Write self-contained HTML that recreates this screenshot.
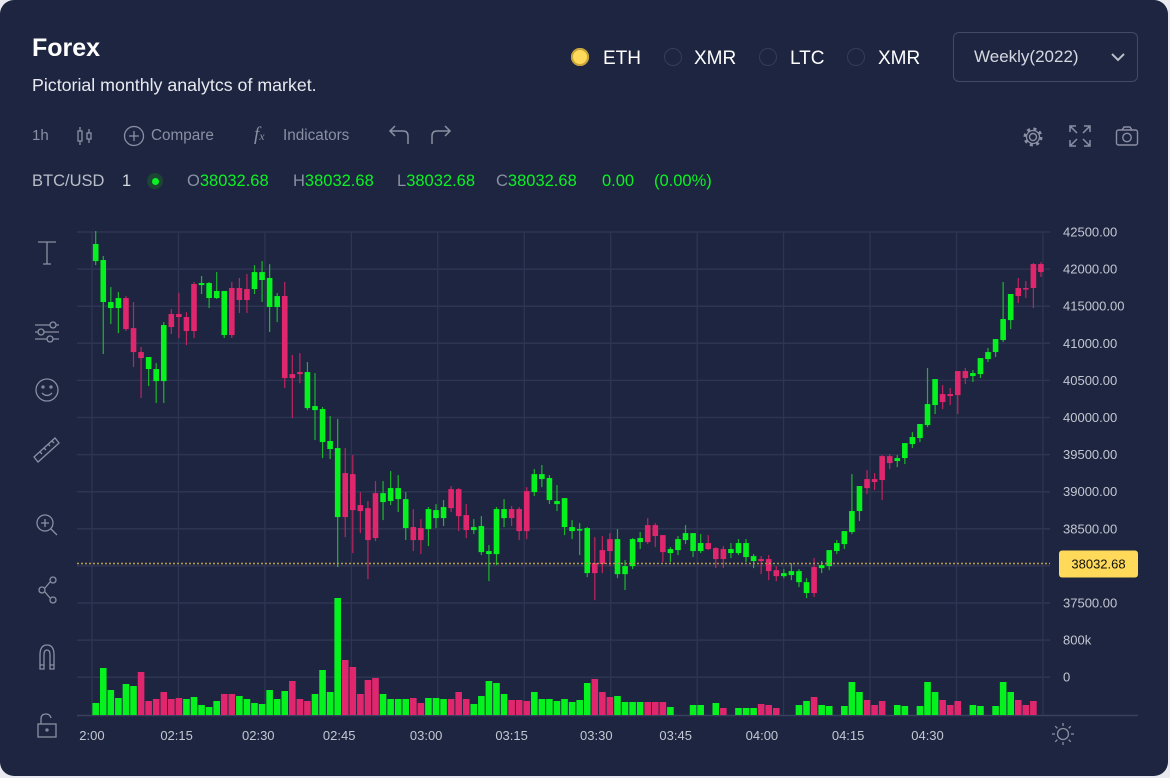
<!DOCTYPE html>
<html><head><meta charset="utf-8"><style>
html,body{margin:0;padding:0;background:#e9eaef;}
body{width:1170px;height:778px;overflow:hidden;font-family:"Liberation Sans",sans-serif;}
#card{position:absolute;left:0;top:0;width:1168px;height:776px;background:#1e2540;border-radius:14px;overflow:hidden;}
.t{position:absolute;white-space:nowrap;}
.o{position:absolute;top:172px;font-size:16.5px;color:#0bf224;white-space:nowrap;}
.o b{font-weight:normal;color:#8a8fa3;}
</style></head><body>
<div id="card">
<div class="t" style="left:32px;top:34px;font-size:25px;color:#fff;font-weight:bold;">Forex</div>
<div class="t" style="left:32px;top:75px;font-size:17.8px;color:#e8eaf0;">Pictorial monthly analytcs of market.</div>

<div class="t" style="left:571px;top:48px;width:18px;height:18px;border-radius:50%;background:#ffd95a;box-shadow:0 0 0 2px #c9a43a inset;"></div>
<div class="t" style="left:603px;top:48px;font-size:19px;color:#fff;">ETH</div>
<div class="t" style="left:664px;top:48px;width:16px;height:16px;border-radius:50%;border:1.5px solid #363d58;"></div>
<div class="t" style="left:694px;top:48px;font-size:19px;color:#fff;">XMR</div>
<div class="t" style="left:759px;top:48px;width:16px;height:16px;border-radius:50%;border:1.5px solid #363d58;"></div>
<div class="t" style="left:790px;top:48px;font-size:19px;color:#fff;">LTC</div>
<div class="t" style="left:847px;top:48px;width:16px;height:16px;border-radius:50%;border:1.5px solid #363d58;"></div>
<div class="t" style="left:878px;top:48px;font-size:19px;color:#fff;">XMR</div>
<div class="t" style="left:953px;top:32px;width:183px;height:48px;border:1px solid #434a63;border-radius:6px;">
<span style="position:absolute;left:20px;top:14px;font-size:17px;color:#d5d8e0;">Weekly(2022)</span>
<svg style="position:absolute;left:156px;top:19px" width="16" height="10"><path d="M2 2 L8 8 L14 2" stroke="#b9bdc9" stroke-width="2" fill="none"/></svg>
</div>

<div class="t" style="left:32px;top:127px;font-size:15px;color:#8a8fa3;">1h</div>
<svg class="t" style="left:75px;top:125px" width="20" height="22"><g stroke="#8a8fa3" stroke-width="1.3" fill="none"><rect x="3" y="6" width="4" height="10"/><line x1="5" y1="2" x2="5" y2="6"/><line x1="5" y1="16" x2="5" y2="20"/><rect x="12" y="8" width="4" height="6"/><line x1="14" y1="4" x2="14" y2="8"/><line x1="14" y1="14" x2="14" y2="18"/></g></svg>
<svg class="t" style="left:123px;top:125px" width="22" height="22"><circle cx="11" cy="11" r="9.5" stroke="#8a8fa3" stroke-width="1.3" fill="none"/><path d="M11 6V16M6 11H16" stroke="#8a8fa3" stroke-width="1.3"/></svg>
<div class="t" style="left:151px;top:127px;font-size:15.3px;color:#8a8fa3;">Compare</div>
<div class="t" style="left:254px;top:124px;font-size:19px;font-style:italic;font-family:'Liberation Serif',serif;color:#8a8fa3;">f<span style="font-size:12px">x</span></div>
<div class="t" style="left:283px;top:127px;font-size:15.3px;color:#8a8fa3;">Indicators</div>
<svg class="t" style="left:386px;top:124px" width="26" height="22"><path d="M22 20V12Q22 7 17 7H4M9 2L4 7L9 12" stroke="#8a8fa3" stroke-width="1.5" fill="none"/></svg>
<svg class="t" style="left:428px;top:124px" width="26" height="22"><path d="M4 20V12Q4 7 9 7H22M17 2L22 7L17 12" stroke="#8a8fa3" stroke-width="1.5" fill="none"/></svg>
<svg class="t" style="left:1021px;top:125px" width="24" height="24"><circle cx="12" cy="12" r="3.5" stroke="#8a8fa3" stroke-width="1.4" fill="none"/><circle cx="12" cy="12" r="8" stroke="#8a8fa3" stroke-width="3" stroke-dasharray="3 3.3" fill="none"/><circle cx="12" cy="12" r="6.5" stroke="#8a8fa3" stroke-width="1.3" fill="none"/></svg>
<svg class="t" style="left:1068px;top:124px" width="24" height="24"><g stroke="#8a8fa3" stroke-width="1.5" fill="none"><path d="M2 8V2H8M2 2L9 9M16 2H22V8M22 2L15 9M2 16V22H8M2 22L9 15M22 16V22H16M22 22L15 15"/></g></svg>
<svg class="t" style="left:1115px;top:125px" width="24" height="22"><g stroke="#8a8fa3" stroke-width="1.4" fill="none"><rect x="1.5" y="5" width="21" height="15" rx="2"/><path d="M7 5L9 2H15L17 5"/><circle cx="12" cy="12.5" r="4.2"/></g></svg>

<div class="t" style="left:32px;top:172px;font-size:16.5px;color:#b9bdc9;">BTC/USD</div>
<div class="t" style="left:122px;top:172px;font-size:16.5px;color:#d5d8e0;">1</div>
<div class="t" style="left:147px;top:173px;width:16px;height:16px;border-radius:50%;background:#1d4533;"><div style="position:absolute;left:4.5px;top:4.5px;width:7px;height:7px;border-radius:50%;background:#0bf224"></div></div>
<div class="o" style="left:187px"><b>O</b>38032.68</div>
<div class="o" style="left:293px"><b>H</b>38032.68</div>
<div class="o" style="left:397px"><b>L</b>38032.68</div>
<div class="o" style="left:496px"><b>C</b>38032.68</div>
<div class="o" style="left:602px">0.00</div>
<div class="o" style="left:654px">(0.00%)</div>

<svg class="t" style="left:28px;top:235px" width="40" height="510">
<g stroke="#8a8fa3" stroke-width="1.3" fill="none">
<path d="M10 7H28M19 7V29M15 29H23"/>
<g><path d="M7 90H31M7 97H31M7 104H31"/><circle cx="25" cy="90" r="3" fill="#1e2540"/><circle cx="13" cy="97" r="3" fill="#1e2540"/><circle cx="22" cy="104" r="3" fill="#1e2540"/></g>
<g><circle cx="19" cy="155" r="11"/><circle cx="15" cy="152" r="1"/><circle cx="23" cy="152" r="1"/><path d="M14 158Q19 163 24 158"/></g>
<g><path d="M6 222L27 203L31 208L10 227Z"/><path d="M12 217L14 219M16 213L18 215M20 209L22 211M24 206L26 208"/></g>
<g><circle cx="17" cy="288" r="8"/><path d="M23 294L29 300M17 284V292M13 288H21"/></g>
<g><circle cx="25" cy="345" r="3"/><circle cx="14" cy="355" r="3"/><circle cx="25" cy="365" r="3"/><path d="M17 353L22 347M17 357L22 363"/></g>
<g><path d="M12 434V420Q12 410 19 410Q26 410 26 420V434H22V420Q22 415 19 415Q16 415 16 420V434Z"/><path d="M12 430H16M22 430H26"/></g>
<g><rect x="10" y="489" width="18" height="13"/><path d="M13 489V484Q13 479 18 479Q22 479 23 483"/><circle cx="19" cy="495" r="1"/></g>
</g></svg>

<svg id="chart" class="t" style="left:0;top:0" width="1168" height="776"></svg>
</div>
<script>
const opens=[42108,41556,41475,41475,41610,41205,40882,40653,40491,40491,41394,41394,41354,41799,41785,41610,41610,41111,41745,41745,41731,41731,41853,41489,41489,41637,40585,40612,40127,40100,39669,39575,38658,39251,39237,38820,38779,38981,38860,38874,38900,38510,38523,38510,38496,38644,38644,39035,39035,38685,38483,38186,38159,38159,38644,38766,38766,39008,38995,39170,38887,38833,38523,38469,38483,37903,38038,38213,38361,37889,37889,37997,38321,38550,38550,38415,38173,38213,38348,38200,38200,38308,38240,38227,38173,38173,38119,38065,38092,38092,37943,37862,37876,37781,37634,37984,37970,37997,38200,38294,38456,38739,39170,39170,39480,39480,39413,39453,39642,39723,39898,40168,40316,40316,40626,40626,40559,40585,40788,40882,41044,41313,41745,41745,42068,42068];
const highs=[42513,42176,41758,41691,41637,41556,40950,40815,40734,41286,41461,41677,41421,41826,41907,41826,41960,41705,41826,41880,41934,42054,42108,42068,41677,41826,40842,40869,40747,40599,40141,40020,39980,39588,39494,38995,38874,39143,39143,39278,39224,38995,38766,38631,38793,38833,38887,39076,39049,38833,38631,38671,38281,38793,38900,38806,38793,39062,39305,39359,39224,39089,38887,38617,38577,38523,38388,38402,38442,38496,38078,38375,38456,38644,38577,38415,38254,38402,38550,38442,38429,38415,38254,38267,38308,38361,38361,38159,38132,38146,37997,37957,38038,37957,37835,38105,38065,38213,38348,38469,39237,39076,39291,39251,39494,39507,39494,39655,39804,39912,40666,40518,40437,40397,40626,40666,40639,40801,40936,41057,41826,41664,41880,41839,42082,42095];
const lows=[42054,40855,41259,41138,41165,40680,40262,40424,40195,40195,41125,41071,40976,41071,41664,41475,41597,41071,41071,41408,41408,41664,41556,41152,41286,40397,39993,40464,40100,39696,39453,39440,37984,38388,38173,38442,37822,38334,38617,38820,38725,38348,38200,38159,38267,38510,38537,38725,38469,38375,38429,38146,37795,38011,38523,38537,38348,38361,38941,39062,38833,38739,38415,38361,38146,37849,37539,37903,37997,37835,37674,37957,38227,38294,38254,38051,38051,38146,38294,38119,38173,38213,37970,37970,38105,38146,38051,37970,37889,37808,37795,37835,37808,37714,37566,37580,37903,37943,38159,38227,38429,38604,38968,39022,38887,39305,39332,39372,39588,39669,39871,40046,40114,40168,40046,40451,40478,40532,40747,40815,41017,41192,41543,41610,41475,41893];
const closes=[42338,42122,41556,41610,41192,40882,40801,40815,40653,41246,41219,41354,41165,41165,41812,41812,41705,41705,41111,41583,41583,41960,41960,41880,41637,40532,40532,40585,40612,40154,40114,39683,39588,38658,38752,38739,38348,38375,38981,39049,39049,38900,38348,38348,38766,38752,38793,38779,38671,38483,38523,38537,38200,38766,38766,38644,38469,38469,39237,39237,39184,38874,38914,38523,38496,38510,37903,38024,38200,38361,37997,38361,38375,38321,38402,38186,38227,38361,38442,38442,38308,38227,38092,38092,38227,38308,38308,38132,38065,37930,37862,37903,37930,37930,37781,37634,38011,38213,38308,38469,38739,39076,39049,39130,39157,39386,39453,39655,39737,39912,40181,40518,40208,40289,40302,40532,40599,40801,40882,41057,41327,41664,41637,41731,41745,41960];
const volumes=[120,470,250,170,310,290,430,140,160,230,160,170,160,180,100,80,140,210,210,190,160,120,110,250,160,240,340,160,140,210,450,230,1170,550,480,210,350,370,210,160,160,160,170,120,170,170,160,160,230,160,110,190,340,320,210,150,150,140,230,160,160,140,160,130,150,320,360,230,180,190,130,130,130,130,130,130,80,0,0,100,100,0,120,70,0,70,70,70,110,100,70,0,0,100,140,180,100,90,0,90,330,230,150,100,140,0,100,90,0,90,330,230,150,100,140,0,100,90,0,90,330,230,150,100,140,0];
const volumeDirections="ggggggrrrrrrgggggrrgggggggrrrggggrrrrrggggrrgggrrrgggggrrrggggggggrrrggggrrrgggggggrrgggrrrggggrggggggrrrgggggggrrrgggggggrrrg";
const priceTicks=["42500.00","42000.00","415000.00","41000.00","40500.00","40000.00","39500.00","39000.00","38500.00","38000.00","37500.00"];
const priceTickValues=[42500,42000,41500,41000,40500,40000,39500,39000,38500,38000,37500];
const timeLabels=["2:00","02:15","02:30","02:45","03:00","03:15","03:30","03:45","04:00","04:15","04:30"];
const timeLabelCandleIndex=[-0.5,10.7,21.5,32.2,43.7,55,66.2,76.7,88.1,99.5,110];
const lastPrice=38032.68;

const NS="http://www.w3.org/2000/svg";
const svg=document.getElementById('chart');
function mk(tag,attrs,parent){const e=document.createElementNS(NS,tag);for(const k in attrs)e.setAttribute(k,attrs[k]);(parent||svg).appendChild(e);return e;}
const yPrice=p=>232+(42500-p)*37.1/500;
const xIdx=i=>95.7+i*7.562;
const yVol=v=>715-v*0.1;
const GREEN="#05f21f",RED="#e0266c",GRID="#2e3552";

for(let k=0;k<13;k++){const y=232+k*37.1;const l=mk('line',{x1:77,x2:1050,y1:y,y2:y,stroke:GRID,'stroke-width':1.5});

}
for(let k=0;k<12;k++){const x=92+k*86.45;const l=mk('line',{x1:x,x2:x,y1:232,y2:715,stroke:GRID,'stroke-width':1.3});

}
const ax=mk('line',{x1:77,x2:1138,y1:715.5,y2:715.5,stroke:"#39405c",'stroke-width':1.5});



priceTicks.forEach((t,i)=>{const e=mk('text',{x:1063,y:yPrice(priceTickValues[i])+4.5,'font-size':13,fill:"#c3c7d2",'font-family':'Liberation Sans, sans-serif'});e.textContent=t;

});
[["800k",640],["0",677]].forEach(([t,y])=>{const e=mk('text',{x:1063,y:y+4.5,'font-size':13,fill:"#c3c7d2",'font-family':'Liberation Sans, sans-serif'});e.textContent=t;

});
timeLabels.forEach((t,i)=>{const e=mk('text',{x:xIdx(timeLabelCandleIndex[i]),y:740,'font-size':13,fill:"#c3c7d2",'text-anchor':'middle','font-family':'Liberation Sans, sans-serif'});e.textContent=t;

});

volumes.forEach((v,i)=>{if(!v)return;const c=volumeDirections[i]==='g'?GREEN:RED;
const r=mk('rect',{x:xIdx(i)-3.3,y:yVol(v),width:6.6,height:715-yVol(v),fill:c});

});

opens.forEach((o,i)=>{const c=closes[i],up=c>=o,col=up?GREEN:RED,x=xIdx(i);
const w=mk('line',{x1:x,x2:x,y1:yPrice(highs[i]),y2:yPrice(lows[i]),stroke:up?"#1cb62e":"#c0245f",'stroke-width':1.2});


const top=yPrice(Math.max(o,c)),bot=yPrice(Math.min(o,c));
const b=mk('rect',{x:x-2.8,y:top,width:5.6,height:Math.max(1.5,bot-top),fill:col});

});

const ly=yPrice(lastPrice);
const pl=mk('line',{x1:77,x2:1050,y1:ly,y2:ly,stroke:"#b89e4c",'stroke-width':1.5,'stroke-dasharray':'2 2'});


const tag=mk('rect',{x:1059,y:ly-13,width:79,height:27,rx:3,fill:"#ffd95a"});


const tt=mk('text',{x:1098.5,y:ly+5,'font-size':13,fill:"#111",'text-anchor':'middle','font-family':'Liberation Sans, sans-serif'});tt.textContent=lastPrice.toFixed(2);



const g=mk('g',{stroke:"#8a8fa3",'stroke-width':1.3,fill:'none'});


mk('circle',{cx:1063,cy:734,r:5.5},g);
for(let k=0;k<8;k++){const a=k*Math.PI/4;mk('line',{x1:1063+Math.cos(a)*8,y1:734+Math.sin(a)*8,x2:1063+Math.cos(a)*11,y2:734+Math.sin(a)*11},g);}
</script>
</body></html>
